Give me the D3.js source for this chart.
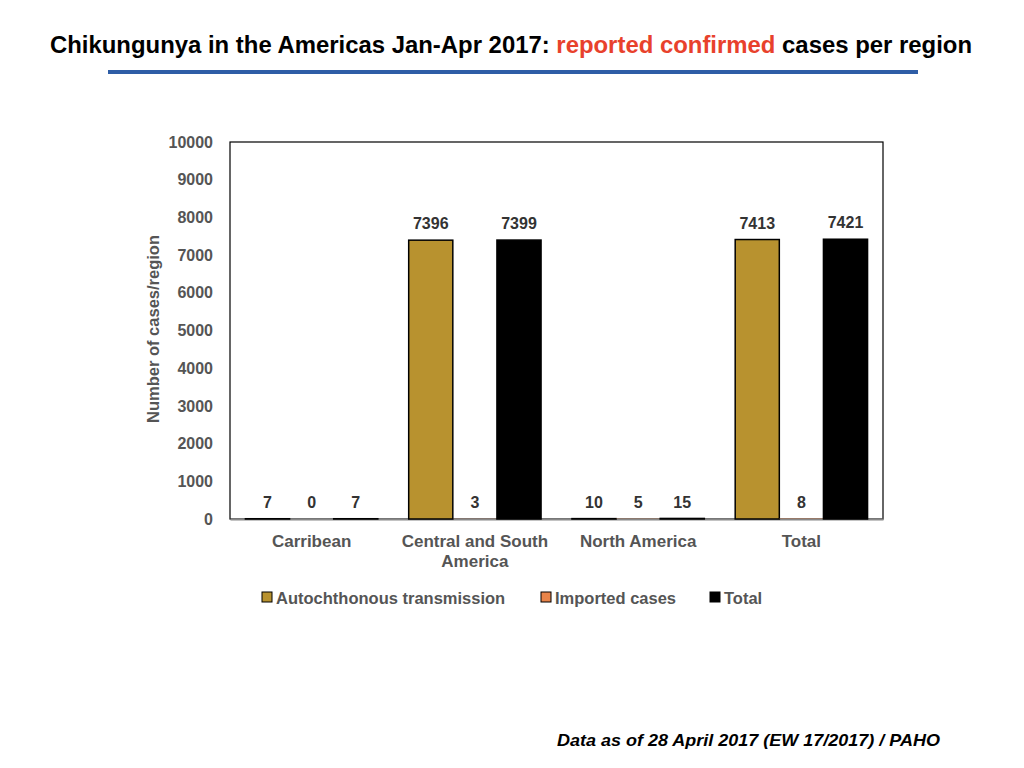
<!DOCTYPE html>
<html><head><meta charset="utf-8">
<script src="https://cdn.jsdelivr.net/npm/d3@7/dist/d3.min.js"></script>
<style>body{margin:0;background:#fff;font-family:"Liberation Sans",Arial,sans-serif;}</style>
</head><body><svg id="c" width="1024" height="768"></svg>
<script>
const categories = ["Carribean", "Central and South America", "North America", "Total"];
const seriesNames = ["Autochthonous transmission", "Imported cases", "Total"];
const autochthonous = [7, 7396, 10, 7413];
const imported = [0, 3, 5, 8];
const totals = [7, 7399, 15, 7421];
const yTicks = [0, 1000, 2000, 3000, 4000, 5000, 6000, 7000, 8000, 9000, 10000];
const colors = ["#B8922F", "#E8844A", "#000000"];

const svg = d3.select("#c");
const series = [autochthonous, imported, totals];
const m = {l: 230, r: 883, t: 142, b: 519};
const FF = "Liberation Sans, Arial, sans-serif";

// Title
const title = svg.append("text").attr("x", 511).attr("y", 53).attr("text-anchor", "middle")
  .style("font-size", "23.5px").style("font-weight", "bold").attr("fill", "#000")
  .attr("textLength", 922).attr("lengthAdjust", "spacingAndGlyphs");
title.append("tspan").text("Chikungunya in the Americas Jan-Apr 2017: ");
title.append("tspan").attr("fill", "#E8412C").text("reported confirmed");
title.append("tspan").text(" cases per region");
svg.append("rect").attr("x", 108).attr("y", 70).attr("width", 810).attr("height", 4).attr("fill", "#2E5DA6");

const x = d3.scaleBand().domain(categories).range([m.l, m.r]).paddingInner(0).paddingOuter(0);
const xs = d3.scaleBand().domain(d3.range(3)).range([0, x.bandwidth()]).paddingOuter(0.35).paddingInner(0);
const y = d3.scaleLinear().domain([0, 10000]).range([m.b, m.t]);

// plot frame
svg.append("rect").attr("x", m.l).attr("y", m.t).attr("width", m.r - m.l).attr("height", m.b - m.t)
  .attr("fill", "none").attr("stroke", "#000").attr("stroke-width", 1.2);

// y axis
const yAxis = svg.append("g").attr("transform", `translate(${m.l},0)`)
  .call(d3.axisLeft(y).tickValues(yTicks).tickSize(0).tickPadding(17).tickFormat(d3.format("d")));
yAxis.select(".domain").remove();
yAxis.selectAll("text").style("font-size", "16px").style("font-weight", "bold").attr("fill", "#555")
  .style("font-family", FF);

// x axis
const xAxis = svg.append("g").attr("transform", `translate(0,${m.b})`)
  .call(d3.axisBottom(x).tickSize(0).tickPadding(16));
xAxis.select(".domain").attr("stroke", "#888").attr("stroke-width", 2);
xAxis.selectAll("text").style("font-size", "17px").style("font-weight", "bold").attr("fill", "#555")
  .style("font-family", FF)
  .each(function(d) {
    if (d === "Central and South America") {
      const t = d3.select(this); t.text(null);
      t.append("tspan").attr("x", 0).attr("dy", "0.71em").text("Central and South");
      t.append("tspan").attr("x", 0).attr("dy", "1.15em").text("America");
    }
  });

// bars
categories.forEach((c, ci) => {
  series.forEach((s, si) => {
    const v = s[ci];
    const bx = x(c) + xs(si);
    const by = y(v);
    svg.append("rect").attr("x", bx).attr("y", by).attr("width", xs.bandwidth())
      .attr("height", y(0) - by).attr("fill", colors[si])
      .attr("stroke", v > 0 && si !== 1 ? "#000" : "none").attr("stroke-width", 1.5);
    svg.append("text").attr("x", bx + xs.bandwidth() / 2).attr("y", v > 1000 ? by - 11 : y(0) - 11)
      .attr("text-anchor", "middle").style("font-size", "16px").style("font-weight", "bold")
      .attr("fill", "#333").text(v);
  });
});

// y label
svg.append("text").attr("transform", "translate(159,329) rotate(-90)").attr("text-anchor", "middle")
  .style("font-size", "16.5px").style("font-weight", "bold").attr("fill", "#555").text("Number of cases/region");

// legend
const legX = [262, 541, 710];
seriesNames.forEach((n, i) => {
  svg.append("rect").attr("x", legX[i]).attr("y", 592).attr("width", 10).attr("height", 10)
    .attr("fill", colors[i]).attr("stroke", "#000").attr("stroke-width", 1);
  svg.append("text").attr("x", legX[i] + 14).attr("y", 604).style("font-size", "16.5px")
    .style("font-weight", "bold").attr("fill", "#555").text(n);
});

// footnote
svg.append("text").attr("x", 940).attr("y", 746).attr("text-anchor", "end")
  .style("font-size", "17px").style("font-weight", "bold").style("font-style", "italic")
  .attr("fill", "#000").attr("textLength", 383).attr("lengthAdjust", "spacingAndGlyphs")
  .text("Data as of 28 April 2017 (EW 17/2017) / PAHO");
</script></body></html>
